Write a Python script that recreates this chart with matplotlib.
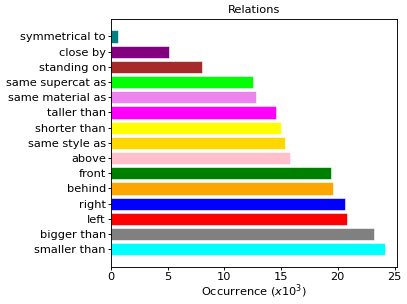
import matplotlib
matplotlib.use("Agg")
import matplotlib.pyplot as plt

categories = ["smaller than", "bigger than", "left", "right", "behind", "front",
              "above", "same style as", "shorter than", "taller than",
              "same material as", "same supercat as", "standing on", "close by",
              "symmetrical to"]
values = [24.2, 23.2, 20.8, 20.6, 19.55, 19.4, 15.8, 15.3, 15.0, 14.55,
          12.75, 12.5, 8.0, 5.1, 0.62]
colors = ["cyan", "gray", "red", "blue", "orange", "green", "pink", "gold",
          "yellow", "magenta", "violet", "lime", "brown", "purple", "teal"]

DPI = 82
fig = plt.figure(figsize=(407 / DPI, 304 / DPI), dpi=DPI)
ax = fig.add_axes([0.273, 0.123, 0.702, 0.814])
ax.barh(categories, values, color=colors, edgecolor="white", linewidth=0.5)
ax.set_xlim(0, 25.2)
ax.set_title("Relations", fontsize=10, pad=5)
ax.set_xlabel("Occurrence ($x10^3$)", fontsize=10, labelpad=1)
ax.set_xticks([0, 5, 10, 15, 20, 25])
ax.tick_params(axis="x", labelsize=10, length=3, pad=1.5)
ax.tick_params(axis="y", labelsize=10, length=3, pad=1.5)
fig.savefig("out.png", dpi=DPI)
